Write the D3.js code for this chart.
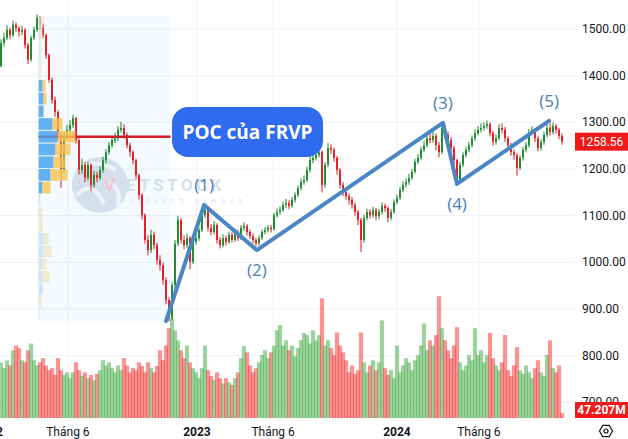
<!DOCTYPE html>
<html>
<head>
<meta charset="utf-8">
<script src="https://cdn.jsdelivr.net/npm/d3@7"></script>
<style>
  body { margin: 0; background: #fff; }
  svg { display: block; font-family: Roboto, "Open Sans", sans-serif; }
</style>
</head>
<body>
<svg width="628" height="439"></svg>
<script>
// candles, one per few sessions, oldest first
var firstOpen = 1420;
var closes = [
  1470,1481,1498,1487,1509,1502,1494,1498,1466,1434,
  1481,1498,1524,1509,1487,1444,1391,1348,1322,1273,
  1198,1273,1284,1294,1309,1262,1198,1209,1181,1209,
  1166,1187,1181,1198,1219,1236,1251,1262,1266,1284,
  1288,1273,1251,1236,1219,1187,1144,1101,1048,1026,
  1059,1037,1005,994,962,919,881,951,1040,1091,
  1048,1037,1052,1001,1044,1052,1069,1101,1112,1074,
  1065,1080,1048,1037,1052,1044,1059,1048,1065,1052,
  1074,1078,1065,1056,1048,1041,1052,1065,1069,1074,
  1071,1101,1108,1112,1123,1127,1121,1134,1144,1159,
  1172,1176,1198,1219,1224,1230,1236,1166,1209,1245,
  1241,1224,1198,1166,1151,1142,1134,1123,1108,1091,
  1048,1095,1108,1101,1112,1099,1108,1121,1116,1095,
  1108,1129,1138,1155,1166,1172,1181,1194,1215,1224,
  1241,1251,1266,1262,1271,1251,1236,1288,1273,1262,
  1245,1219,1176,1209,1230,1241,1251,1266,1277,1284,
  1288,1292,1296,1277,1258,1266,1288,1284,1266,1251,
  1236,1230,1202,1224,1241,1251,1279,1284,1266,1245,
  1258,1273,1288,1279,1292,1284,1271,1258.56
];
var highs = [
  1478,1492,1508,1503,1518,1514,1506,1507,1502,1470,
  1486,1505,1531,1528,1513,1490,1448,1396,1355,1326,
  1280,1280,1295,1305,1316,1312,1266,1222,1215,1216,
  1212,1196,1194,1206,1226,1242,1258,1270,1278,1292,
  1301,1296,1278,1256,1240,1222,1190,1148,1105,1058,
  1070,1066,1042,1015,1000,968,925,958,1048,1100,
  1095,1058,1062,1056,1050,1060,1075,1108,1120,1116,
  1082,1088,1084,1054,1060,1058,1066,1064,1072,1070,
  1080,1086,1082,1070,1062,1052,1058,1070,1076,1080,
  1080,1106,1115,1120,1130,1136,1133,1140,1150,1165,
  1180,1186,1205,1226,1232,1238,1245,1240,1215,1256,
  1253,1246,1228,1202,1172,1158,1148,1140,1128,1112,
  1095,1102,1115,1114,1119,1116,1114,1128,1126,1120,
  1114,1135,1145,1162,1174,1180,1190,1200,1222,1232,
  1248,1260,1274,1278,1280,1276,1258,1298,1294,1280,
  1268,1250,1222,1215,1236,1248,1258,1272,1285,1292,
  1298,1300,1304,1300,1282,1274,1296,1298,1290,1270,
  1256,1242,1234,1230,1248,1258,1286,1292,1288,1270,
  1264,1280,1296,1298,1300,1296,1288,1276
];
var lows = [
  1418,1462,1476,1478,1483,1494,1484,1487,1458,1425,
  1430,1476,1494,1500,1480,1436,1385,1340,1312,1262,
  1160,1192,1265,1278,1288,1255,1188,1190,1172,1176,
  1152,1160,1172,1176,1192,1212,1230,1245,1255,1260,
  1278,1265,1244,1226,1210,1178,1135,1092,1040,1015,
  1020,1028,995,982,952,910,873,876,945,1035,
  1040,1028,1030,985,996,1038,1046,1065,1096,1066,
  1058,1060,1040,1030,1032,1036,1040,1042,1044,1046,
  1048,1068,1058,1050,1040,1034,1036,1048,1060,1064,
  1064,1068,1096,1102,1108,1116,1114,1117,1128,1140,
  1154,1166,1172,1192,1212,1218,1225,1150,1160,1204,
  1232,1216,1188,1158,1142,1134,1124,1115,1100,1080,
  1022,1042,1090,1094,1096,1090,1092,1102,1108,1086,
  1090,1104,1124,1134,1150,1160,1166,1176,1190,1210,
  1220,1236,1246,1255,1256,1240,1225,1232,1266,1255,
  1236,1208,1168,1172,1204,1225,1236,1246,1260,1272,
  1278,1282,1286,1270,1250,1252,1262,1276,1258,1244,
  1228,1220,1186,1198,1218,1236,1246,1274,1258,1238,
  1240,1252,1268,1272,1274,1276,1264,1252
];
// volume, millions
var volumes = [
  530,475,550,500,645,690,665,550,530,645,
  710,550,500,530,570,500,455,475,410,570,
  455,410,435,380,435,530,455,400,435,380,
  410,360,420,455,550,500,530,475,435,500,
  455,570,500,435,475,455,530,495,435,530,
  475,435,495,645,550,690,855,950,835,740,
  645,570,690,530,475,435,380,475,690,455,
  400,360,435,380,330,380,340,315,380,435,
  570,685,625,500,435,475,530,600,645,570,
  625,690,835,885,690,740,645,690,590,665,
  740,810,790,710,835,740,790,1140,690,740,
  665,600,815,690,625,550,435,500,420,455,
  815,530,435,500,550,455,530,930,475,410,
  455,380,690,435,500,570,530,455,550,600,
  690,900,645,740,690,790,1160,855,740,645,
  570,690,865,530,455,500,600,550,855,600,
  645,530,600,810,570,500,455,530,790,455,
  400,500,675,455,420,500,435,380,475,550,
  435,400,600,740,475,435,500,47.207
];

var priceTicks = [700, 800, 900, 1000, 1100, 1200, 1300, 1400, 1500];
var timeLabels = ["2022", "Tháng 6", "2023", "Tháng 6", "2024", "Tháng 6"];
var timeBars = [-4, 22.3, 65.3, 90.7, 132, 159.3];
var timeIsYear = [true, false, true, false, true, false];

// elliott wave pivots
var waveNames = ["", "(1)", "(2)", "(3)", "(4)", "(5)"];
var waveBars = [55, 67.7, 85.3, 147.3, 152, 182.7];
var wavePrices = [874, 1123, 1026, 1299, 1168, 1303];

// fixed range volume profile, rows top to bottom
var frvpBars = [13, 56];
var frvpRange = [874, 1528];
var profileUp = [20,15,10,10,5,40,50,50,140,190,170,150,120,40,15,10,5,50,50,30,40,40,10,5];
var profileDown = [30,25,20,20,20,30,30,5,100,180,150,120,170,80,5,30,40,50,80,50,70,5,20,5];
var valueArea = [5, 13];

var lastPrice = 1258.56;
var lastVolume = "47.207M";

var svg = d3.select("svg");
var plotRight = 575;
var volBase = 418;

var x = d3.scaleLinear().domain([0, closes.length - 1]).range([1, 562]);
var y = d3.scaleLinear().domain([900, 1500]).range([309, 29]);
var yVol = d3.scaleLinear().domain([0, 1000]).range([volBase, volBase - 105]);

var bars = closes.map(function(c, i) {
  return {
    i: i,
    open: i ? closes[i - 1] : firstOpen,
    close: c,
    high: highs[i],
    low: lows[i],
    volume: volumes[i]
  };
});

svg.append("defs").append("clipPath").attr("id", "plot")
  .append("rect").attr("x", 0).attr("y", 0).attr("width", plotRight).attr("height", volBase);

// grid
svg.append("g")
  .selectAll("line")
  .data(priceTicks)
  .enter().append("line")
    .attr("x1", 0).attr("x2", plotRight)
    .attr("y1", d => y(d)).attr("y2", d => y(d))
    .attr("stroke", "#eef1f7");

svg.append("g")
  .selectAll("line")
  .data(timeBars)
  .enter().append("line")
    .attr("x1", d => x(d)).attr("x2", d => x(d))
    .attr("y1", 0).attr("y2", volBase)
    .attr("stroke", "#eef1f7");

// frvp background
var fx0 = x(frvpBars[0]) - 1.5;
var fx1 = x(frvpBars[1]) + 1.5;
svg.append("rect")
  .attr("x", fx0).attr("y", y(frvpRange[1]))
  .attr("width", fx1 - fx0).attr("height", y(frvpRange[0]) - y(frvpRange[1]))
  .attr("fill", "rgba(33,150,243,0.05)");

// watermark
var wm = svg.append("g");
wm.append("circle").attr("cx", 100).attr("cy", 185).attr("r", 28).attr("fill", "#d5e0ed");
wm.append("path")
  .attr("d", "M78,168 Q96,158 116,170 M76,196 Q92,178 104,204 M110,182 Q122,190 118,206")
  .attr("fill", "none").attr("stroke", "#eef3f9").attr("stroke-width", 4);
wm.append("text").attr("x", 103).attr("y", 191)
  .attr("font-size", 19).attr("font-weight", "bold").attr("fill", "#f2c9cc")
  .text("V");
wm.append("text").attr("x", 126).attr("y", 191)
  .attr("font-size", 17).attr("font-weight", "bold").attr("letter-spacing", 3.5)
  .attr("fill", "#d4dfeb")
  .text("ETSTOCK");
wm.append("text").attr("x", 131).attr("y", 203)
  .attr("font-size", 8).attr("letter-spacing", 4.6).attr("fill", "#dde5ee")
  .text("refresh always");

var plot = svg.append("g").attr("clip-path", "url(#plot)");

// volume
plot.append("g")
  .selectAll("rect")
  .data(bars)
  .enter().append("rect")
    .attr("x", d => x(d.i) - 2.1)
    .attr("width", 4.2)
    .attr("y", d => yVol(d.volume))
    .attr("height", d => volBase - yVol(d.volume))
    .attr("fill", d => d.close >= d.open ? "#4caf50" : "#f23c3c")
    .attr("opacity", 0.55);

// candles
var candle = plot.append("g")
  .selectAll("g")
  .data(bars)
  .enter().append("g")
    .attr("stroke", d => d.close >= d.open ? "#17892a" : "#e3171c")
    .attr("fill", d => d.close >= d.open ? "#17892a" : "#e3171c");

candle.append("line")
  .attr("x1", d => x(d.i)).attr("x2", d => x(d.i))
  .attr("y1", d => y(d.high)).attr("y2", d => y(d.low))
  .attr("stroke-width", 1);

candle.append("rect")
  .attr("x", d => x(d.i) - 0.9)
  .attr("width", 1.8)
  .attr("y", d => y(Math.max(d.open, d.close)))
  .attr("height", d => Math.max(1, Math.abs(y(d.open) - y(d.close))))
  .attr("stroke", "none");

// volume profile
var rows = profileUp.length;
var rowH = (y(frvpRange[0]) - y(frvpRange[1])) / rows;
var pocRow = d3.maxIndex(profileUp, (d, i) => d + profileDown[i]);
var w = d3.scaleLinear()
  .domain([0, d3.max(profileUp, (d, i) => d + profileDown[i])])
  .range([0, (fx1 - fx0) * 0.28]);

var pocY = y(frvpRange[1]) + (pocRow + 0.5) * rowH;
svg.append("line")
  .attr("x1", fx0).attr("x2", fx1)
  .attr("y1", pocY).attr("y2", pocY)
  .attr("stroke", "#cf1f24").attr("stroke-width", 2.5);

var prof = svg.append("g")
  .selectAll("g")
  .data(profileUp)
  .enter().append("g")
    .attr("transform", (d, i) => "translate(" + fx0 + "," + (y(frvpRange[1]) + i * rowH + 0.5) + ")");

prof.append("rect")
  .attr("width", d => w(d))
  .attr("height", rowH - 1)
  .attr("fill", (d, i) => i >= valueArea[0] && i <= valueArea[1] ? "#4aa3ee" : "#c6def4")
  .attr("opacity", 0.85);

prof.append("rect")
  .attr("x", d => w(d))
  .attr("width", (d, i) => w(profileDown[i]))
  .attr("height", rowH - 1)
  .attr("fill", (d, i) => i >= valueArea[0] && i <= valueArea[1] ? "#f7c552" : "#f1e6c2")
  .attr("opacity", 0.8);

// wave count
var wave = waveBars.map((b, i) => [x(b), y(wavePrices[i])]);
svg.append("path")
  .attr("d", d3.line()(wave))
  .attr("fill", "none")
  .attr("stroke", "#4a86c6")
  .attr("stroke-width", 4)
  .attr("stroke-linejoin", "round")
  .attr("stroke-linecap", "round");

svg.append("g")
  .selectAll("text")
  .data(waveNames.slice(1))
  .enter().append("text")
    .attr("x", (d, i) => x(waveBars[i + 1]))
    .attr("y", (d, i) => {
      var up = wavePrices[i + 1] > wavePrices[i];
      return y(wavePrices[i + 1]) + (up ? -14 : 26);
    })
    .attr("text-anchor", "middle")
    .attr("font-family", "Open Sans, sans-serif")
    .attr("font-size", 17)
    .attr("fill", "#4a7fb8")
    .text(d => d);

// POC callout
var callout = svg.append("g").attr("transform", "translate(172,107)");
callout.append("rect")
  .attr("width", 151).attr("height", 50).attr("rx", 16)
  .attr("fill", "#2f6bee");
callout.append("text")
  .attr("x", 75.5).attr("y", 31.5)
  .attr("text-anchor", "middle")
  .attr("font-family", "Open Sans, sans-serif")
  .attr("font-weight", "bold")
  .attr("font-size", 19)
  .attr("fill", "#fff")
  .text("POC của FRVP");

// price axis
svg.append("g")
  .selectAll("text")
  .data(priceTicks)
  .enter().append("text")
    .attr("x", 582)
    .attr("y", d => y(d) + 4)
    .attr("font-size", 12)
    .attr("fill", "#131722")
    .text(d => d3.format(".2f")(d));

svg.append("rect")
  .attr("x", plotRight).attr("y", y(lastPrice) - 9)
  .attr("width", 53).attr("height", 18)
  .attr("fill", "#f01a1a");
svg.append("text")
  .attr("x", 601.5).attr("y", y(lastPrice) + 4)
  .attr("text-anchor", "middle")
  .attr("font-size", 12)
  .attr("fill", "#fff")
  .text(d3.format(".2f")(lastPrice));

svg.append("rect")
  .attr("x", plotRight).attr("y", 402)
  .attr("width", 53).attr("height", 16)
  .attr("fill", "#f01a1a");
svg.append("text")
  .attr("x", 601.5).attr("y", 414)
  .attr("text-anchor", "middle")
  .attr("font-size", 12)
  .attr("font-weight", "bold")
  .attr("fill", "#fff")
  .text(lastVolume);

// time axis
svg.append("g")
  .selectAll("text")
  .data(timeLabels)
  .enter().append("text")
    .attr("x", (d, i) => x(timeBars[i]))
    .attr("y", 436)
    .attr("text-anchor", "middle")
    .attr("font-size", 12)
    .attr("font-weight", (d, i) => timeIsYear[i] ? "bold" : "normal")
    .attr("fill", "#131722")
    .text(d => d);

// settings icon
var hex = d3.range(6).map(k => {
  var a = Math.PI / 3 * k;
  return [606 + 6.5 * Math.cos(a), 431 + 6.5 * Math.sin(a)];
});
svg.append("path")
  .attr("d", d3.line()(hex) + "Z")
  .attr("fill", "none").attr("stroke", "#131722").attr("stroke-width", 1.2);
svg.append("circle")
  .attr("cx", 606).attr("cy", 431).attr("r", 2)
  .attr("fill", "none").attr("stroke", "#131722").attr("stroke-width", 1.2);
</script>
</body>
</html>
